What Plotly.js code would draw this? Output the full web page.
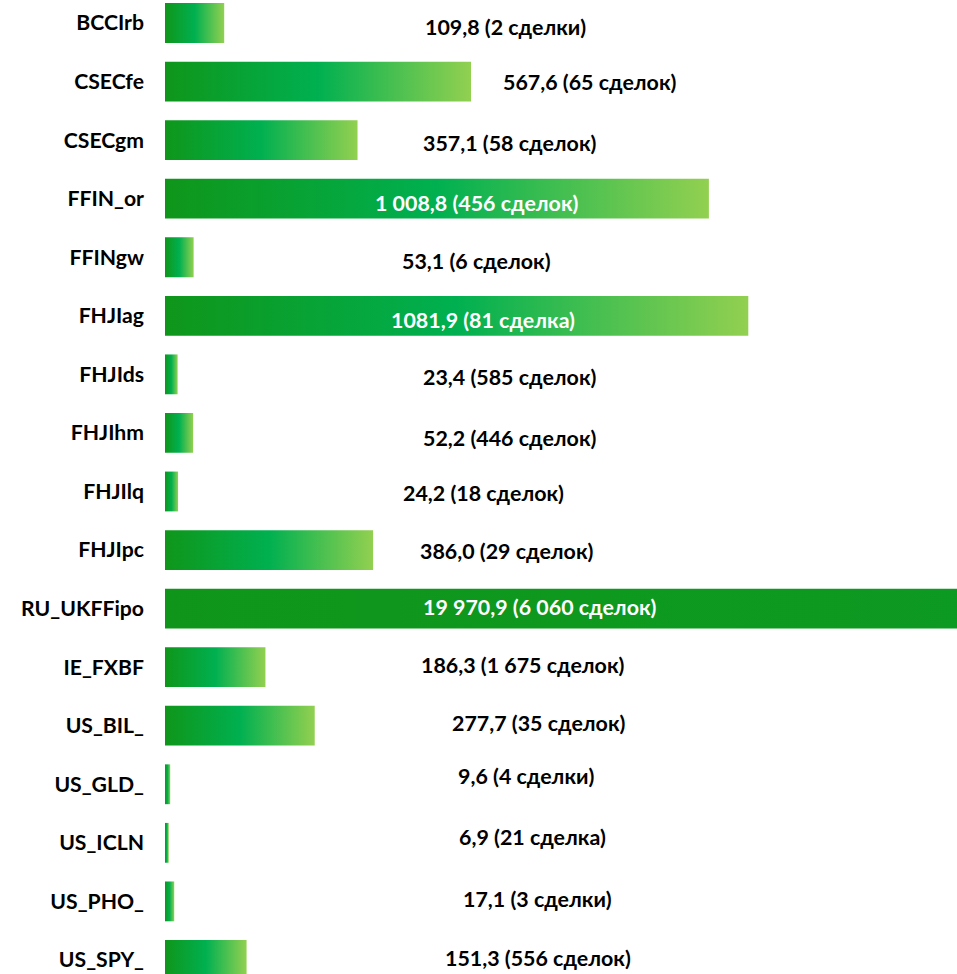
<!DOCTYPE html>
<html>
<head>
<meta charset="utf-8">
<script src="https://cdn.plot.ly/plotly-3.0.1.min.js"></script>
<style>html,body{margin:0;padding:0;background:#fff;}#chart{width:957px;height:974px;}</style>
</head>
<body>
<div id="chart"></div>
<script>
// ---- data ----
const categories = ["BCCIrb","CSECfe","CSECgm","FFIN_or","FFINgw","FHJIag","FHJIds","FHJIhm","FHJIlq","FHJIpc","RU_UKFFipo","IE_FXBF","US_BIL_","US_GLD_","US_ICLN","US_PHO_","US_SPY_"];
const volumes = [109.8, 567.6, 357.1, 1008.8, 53.1, 1081.9, 23.4, 52.2, 24.2, 386.0, 19970.9, 186.3, 277.7, 9.6, 6.9, 17.1, 151.3];
const labels = ["109,8 (2 сделки)","567,6 (65 сделок)","357,1 (58 сделок)","1 008,8 (456 сделок)","53,1 (6 сделок)","1081,9 (81 сделка)","23,4 (585 сделок)","52,2 (446 сделок)","24,2 (18 сделок)","386,0 (29 сделок)","19 970,9 (6 060 сделок)","186,3 (1 675 сделок)","277,7 (35 сделок)","9,6 (4 сделки)","6,9 (21 сделка)","17,1 (3 сделки)","151,3 (556 сделок)"];

// ---- layout config (label placement) ----
const labelX = [631, 789, 640, 579, 577, 590, 640, 640, 590, 634, 696, 664, 694, 670, 681, 690, 692];
const labelDy = [4, 0, 3, 4, 4, 4, 3, 5, 2, 1, -2, -2, -3, -8, -6, -2, -2];
const whiteLabel = [false,false,false,true,false,true,false,false,false,false,true,false,false,false,false,false,false];

const FONT = "Lato, 'Open Sans', sans-serif";
const half = 0.34;
const traces = categories.map((c, i) => ({
  type: 'scatter',
  mode: 'lines',
  x: [0, volumes[i], volumes[i], 0, 0],
  y: [i - half, i - half, i + half, i + half, i - half],
  fill: 'toself',
  line: {width: 0},
  fillgradient: {
    type: 'horizontal',
    colorscale: [[0, '#0f961a'], [0.5, '#00b050'], [1, '#92d050']]
  },
  hoverinfo: 'skip',
  showlegend: false
}));

const annotations = labels.map((t, i) => ({
  x: labelX[i], y: i, xref: 'x', yref: 'y',
  text: '<b>' + t + '</b>', showarrow: false,
  yshift: -labelDy[i],
  font: {family: FONT, size: 21.4, color: whiteLabel[i] ? '#ffffff' : '#000000'},
  xanchor: 'center', yanchor: 'middle'
}));

const layout = {
  width: 957, height: 974,
  margin: {l: 165, r: 0, t: 0, b: 0, pad: 0},
  paper_bgcolor: '#ffffff', plot_bgcolor: '#ffffff',
  xaxis: {range: [0, 1469], visible: false, fixedrange: true},
  yaxis: {
    range: [16.24, -0.393],
    tickmode: 'array',
    tickvals: categories.map((c, i) => i),
    ticktext: categories.map(c => '<b>' + c + '</b>'),
    ticks: '', showgrid: false, zeroline: false, showline: false,
    ticklabelstandoff: 20,
    tickfont: {family: FONT, size: 21.2, color: '#000000'}
  },
  annotations: annotations
};

Plotly.newPlot('chart', traces, layout, {displayModeBar: false, staticPlot: true});
</script>
</body>
</html>
